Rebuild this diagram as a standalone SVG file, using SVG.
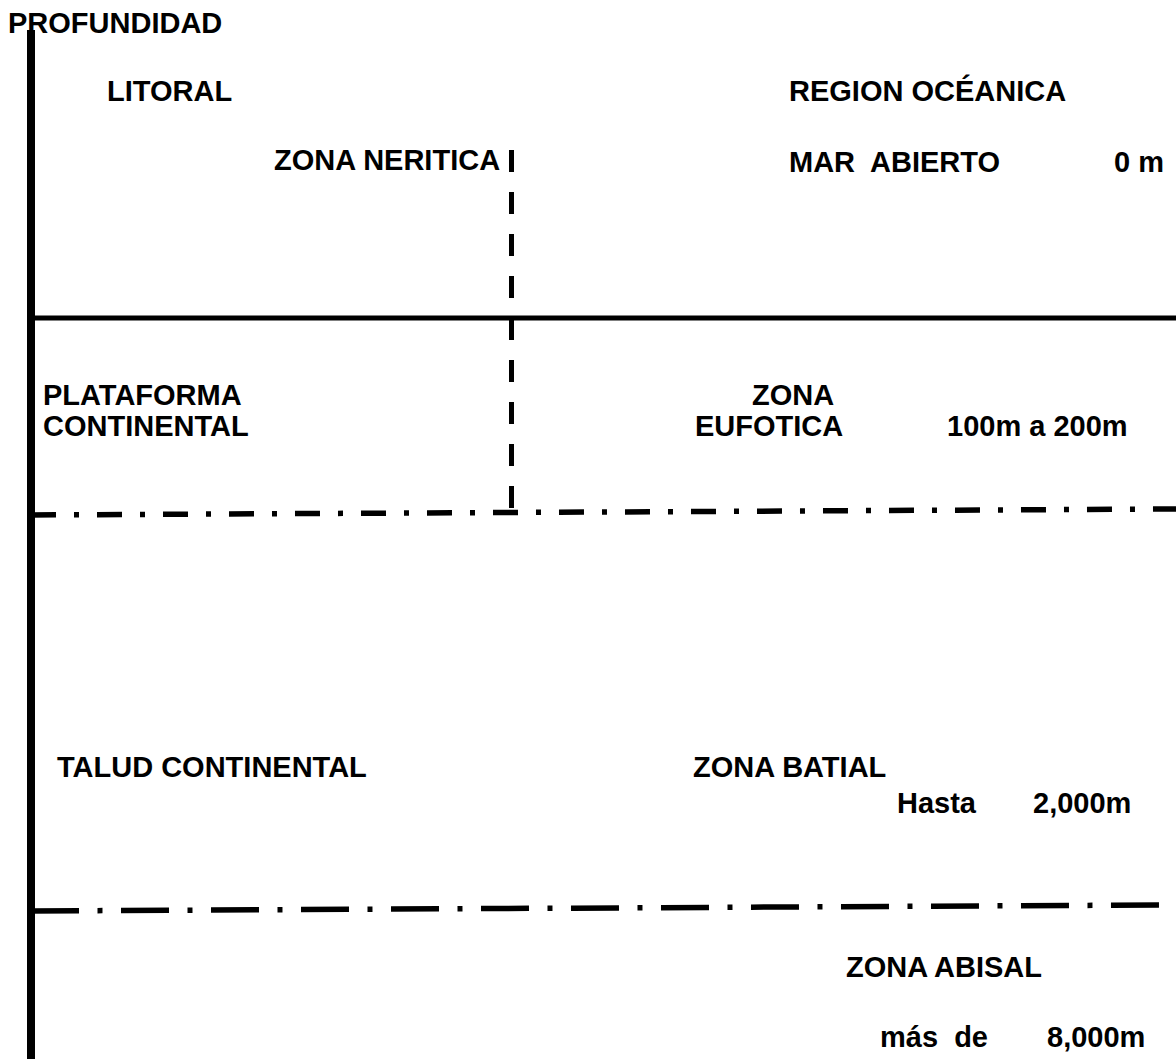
<svg xmlns="http://www.w3.org/2000/svg" width="1176" height="1059" viewBox="0 0 1176 1059">
<style>
  text { font-family: "Liberation Sans", Arial, sans-serif; font-weight: bold; font-size: 29px; fill: #000; white-space: pre; }
  .ln { stroke: #000; fill: none; stroke-width: 5; }
</style>
<defs>
  <linearGradient id="fade" x1="0" y1="0" x2="1" y2="0">
    <stop offset="0" stop-color="#ffffff"/>
    <stop offset="0.5" stop-color="#888888"/>
    <stop offset="1" stop-color="#000000"/>
  </linearGradient>
</defs>
<rect width="1176" height="1059" fill="#fff"/>
<g id="connectors">
  <line class="ln" x1="31" y1="30" x2="31" y2="1059" style="stroke-width:8"/>
  <line class="ln" x1="31" y1="318" x2="1176" y2="318"/>
  <line class="ln" x1="511.5" y1="150" x2="511.5" y2="513" stroke-dasharray="22 20"/>
  <line class="ln" x1="31" y1="515" x2="1176" y2="509" stroke-dasharray="25 18 5 18" style="stroke-width:5.5"/>
  <line class="ln" x1="31" y1="911" x2="1160" y2="905" stroke-dasharray="48 18.5 5 18.5" style="stroke-width:5.5"/>
  <line x1="790" y1="1057.5" x2="1176" y2="1057.5" stroke="url(#fade)" stroke-width="2"/>
</g>
<g id="profundidad"><text x="8" y="33">PROFUNDIDAD</text></g>
<g id="litoral"><text x="107" y="101">LITORAL</text></g>
<g id="region-oceanica"><text x="789" y="101">REGION OCÉANICA</text></g>
<g id="zona-neritica"><text x="274" y="170">ZONA NERITICA</text></g>
<g id="mar-abierto"><text x="789" y="172">MAR  ABIERTO</text></g>
<g id="cero"><text x="1114" y="172">0 m</text></g>
<g id="plataforma"><text x="43" y="405">PLATAFORMA</text><text x="43" y="436">CONTINENTAL</text></g>
<g id="zona-eufotica"><text x="752" y="405">ZONA</text><text x="695" y="436">EUFOTICA</text></g>
<g id="eufotica-prof"><text x="947" y="436">100m a 200m</text></g>
<g id="talud"><text x="57" y="777">TALUD CONTINENTAL</text></g>
<g id="zona-batial"><text x="693" y="777">ZONA BATIAL</text></g>
<g id="batial-prof"><text x="897" y="813">Hasta</text><text x="1033" y="813">2,000m</text></g>
<g id="zona-abisal"><text x="846" y="977">ZONA ABISAL</text></g>
<g id="abisal-prof"><text x="880" y="1047">más  de</text><text x="1047" y="1047">8,000m</text></g>
</svg>
